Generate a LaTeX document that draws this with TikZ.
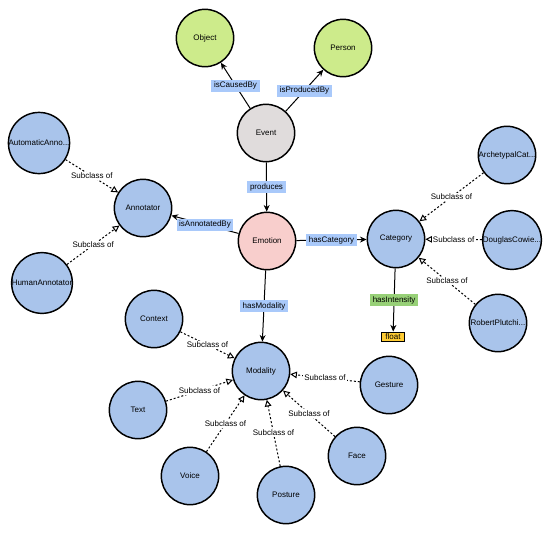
\documentclass[tikz,border=0pt]{standalone}
\usepackage{fontspec}
\setmainfont{Liberation Sans}
\usetikzlibrary{arrows.meta}
\definecolor{cblue}{RGB}{169,196,235}
\definecolor{cgreen}{RGB}{205,235,139}
\definecolor{cgray}{RGB}{224,220,220}
\definecolor{cpink}{RGB}{248,206,204}
\definecolor{lblue}{RGB}{169,201,250}
\definecolor{lgreen}{RGB}{151,208,119}
\definecolor{cyellow}{RGB}{255,204,51}
\tikzset{
  cls/.style={circle,draw=black,line width=1.1pt,minimum size=43pt,inner sep=0pt,font=\fontsize{6}{7}\selectfont},
  bluec/.style={cls,fill=cblue},
  greenc/.style={cls,fill=cgreen},
  rel/.style={draw=black,line width=0.75pt,-{Stealth[length=5pt,width=4.5pt]}},
  sub/.style={draw=black,line width=0.75pt,dash pattern=on 1.5pt off 1.5pt,-{Triangle[open,length=5pt,width=5pt]}},
  rlab/.style={fill=lblue,inner xsep=2pt,inner ysep=1.5pt,minimum height=9pt,font=\fontsize{6}{7}\selectfont},
  slab/.style={fill=white,inner sep=1pt,font=\fontsize{6}{7}\selectfont},
}
\begin{document}
\begin{tikzpicture}[x=0.75pt,y=-0.75pt]
\useasboundingbox (0,0) rectangle (550,533);
% nodes
\node[greenc] (object) at (205,38) {Object};
\node[greenc] (person) at (343,48) {Person};
\node[cls,fill=cgray] (event) at (266,133) {Event};
\node[cls,fill=cpink] (emotion) at (267,241) {Emotion};
\node[bluec] (annot) at (143,208) {Annotator};
\node[bluec] (autoa) at (39,143) {AutomaticAnno...};
\node[bluec] (human) at (42,283) {HumanAnnotator};
\node[bluec] (cat) at (396,239) {Category};
\node[bluec] (arch) at (507,155) {ArchetypalCat...};
\node[bluec] (doug) at (512,240) {DouglasCowie...};
\node[bluec] (rob) at (498,323) {RobertPlutchi...};
\node[draw=black,line width=0.75pt,fill=cyellow,inner xsep=3pt,inner ysep=1.5pt,font=\fontsize{6}{7}\selectfont] (float) at (393,337) {float};
\node[bluec] (mod) at (261,371) {Modality};
\node[bluec] (context) at (154,319) {Context};
\node[bluec] (text) at (138,410) {Text};
\node[bluec] (voice) at (190,476) {Voice};
\node[bluec] (posture) at (286,495) {Posture};
\node[bluec] (face) at (357,456) {Face};
\node[bluec] (gesture) at (389,385) {Gesture};
% relations
\draw[rel] (event) -- node[rlab] {isCausedBy} (object);
\draw[rel] (event) -- node[rlab] {isProducedBy} (person);
\draw[rel] (event) -- node[rlab] {produces} (emotion);
\draw[rel] (emotion) -- node[rlab] {isAnnotatedBy} (annot);
\draw[rel] (emotion) -- node[rlab] {hasCategory} (cat);
\draw[rel] (emotion) -- node[rlab] {hasModality} (mod);
\draw[rel] (cat) -- node[rlab,fill=lgreen] {hasIntensity} (float);
% subclass
\draw[sub] (autoa) -- node[slab] {Subclass of} (annot);
\draw[sub] (human) -- node[slab] {Subclass of} (annot);
\draw[sub] (arch) -- node[slab] {Subclass of} (cat);
\draw[sub] (doug) -- node[slab] {Subclass of} (cat);
\draw[sub] (rob) -- node[slab] {Subclass of} (cat);
\draw[sub] (context) -- node[slab] {Subclass of} (mod);
\draw[sub] (text) -- node[slab] {Subclass of} (mod);
\draw[sub] (voice) -- node[slab] {Subclass of} (mod);
\draw[sub] (posture) -- node[slab] {Subclass of} (mod);
\draw[sub] (face) -- node[slab] {Subclass of} (mod);
\draw[sub] (gesture) -- node[slab] {Subclass of} (mod);
\end{tikzpicture}
\end{document}
